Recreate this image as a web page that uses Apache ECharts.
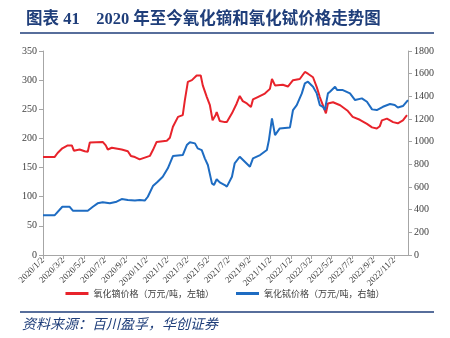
<!DOCTYPE html>
<html><head><meta charset="utf-8">
<script src="https://cdn.jsdelivr.net/npm/echarts@6/dist/echarts.min.js"></script>
<style>html,body{margin:0;padding:0;background:#fff}#c{width:450px;height:338px}</style>
</head><body><div id="c"></div>
<script>
var titleText = '图表 41    2020 年至今氧化镝和氧化铽价格走势图';
var sourceText = '资料来源：百川盈孚，华创证券';
var seriesNames = ['氧化镝价格（万元/吨，左轴）', '氧化铽价格（万元/吨，右轴）'];
var tickLabels = ['2020/1/2','2020/3/2','2020/5/2','2020/7/2','2020/9/2','2020/11/2','2021/1/2','2021/3/2','2021/5/2','2021/7/2','2021/9/2','2021/11/2','2022/1/2','2022/3/2','2022/5/2','2022/7/2','2022/9/2','2022/11/2'];
var xStart = '2020/1/2', xEnd = '2022/12/13';

var dyDates = ['2020/1/2','2020/2/5','2020/2/14','2020/2/28','2020/3/15','2020/3/27','2020/4/2','2020/4/19','2020/5/4','2020/5/13','2020/5/19','2020/6/26','2020/7/5','2020/7/11','2020/7/23','2020/8/21','2020/9/8','2020/9/17','2020/9/29','2020/10/13','2020/10/28','2020/11/12','2020/11/21','2020/12/2','2021/1/1','2021/1/10','2021/1/19','2021/2/3','2021/2/17','2021/2/23','2021/3/4','2021/3/16','2021/3/30','2021/4/11','2021/4/17','2021/4/29','2021/5/8','2021/5/16','2021/5/25','2021/5/28','2021/6/6','2021/6/21','2021/6/27','2021/7/12','2021/7/26','2021/8/4','2021/8/13','2021/8/25','2021/9/6','2021/9/12','2021/9/26','2021/10/17','2021/11/1','2021/11/7','2021/11/16','2021/12/9','2021/12/24','2022/1/8','2022/1/28','2022/2/12','2022/2/21','2022/3/8','2022/3/19','2022/3/28','2022/4/6','2022/4/15','2022/4/21','2022/5/6','2022/5/27','2022/6/17','2022/7/3','2022/7/24','2022/8/14','2022/8/29','2022/9/12','2022/9/21','2022/9/27','2022/10/12','2022/10/30','2022/11/13','2022/11/28','2022/12/10'];
var dyValues = [168,168,175,183,188,188,179,181,178,177,193,194,188,181,184,181,178,170,168,164,167,170,180,194,196,201,220,237,240,265,297,300,308,308,291,271,257,231,240,245,230,228,228,243,260,273,264,260,254,267,271,277,285,302,291,292,289,300,302,314,311,305,288,271,257,243,260,262,257,248,237,232,225,219,217,221,231,234,228,226,231,240];

var tbDates = ['2020/1/2','2020/2/5','2020/2/28','2020/3/20','2020/3/30','2020/5/13','2020/5/28','2020/6/11','2020/6/26','2020/7/17','2020/8/6','2020/8/21','2020/9/8','2020/9/29','2020/10/13','2020/10/28','2020/11/6','2020/11/21','2020/12/5','2020/12/20','2021/1/4','2021/1/19','2021/2/17','2021/3/1','2021/3/10','2021/3/25','2021/4/2','2021/4/14','2021/4/23','2021/5/2','2021/5/14','2021/5/20','2021/5/28','2021/6/6','2021/6/21','2021/6/27','2021/7/12','2021/7/20','2021/8/4','2021/8/19','2021/9/3','2021/9/12','2021/10/3','2021/10/23','2021/10/29','2021/11/7','2021/11/16','2021/11/30','2021/12/30','2022/1/8','2022/1/19','2022/2/3','2022/2/12','2022/2/21','2022/3/8','2022/3/19','2022/3/28','2022/4/6','2022/4/12','2022/4/17','2022/4/21','2022/4/27','2022/5/12','2022/5/18','2022/6/4','2022/6/25','2022/7/10','2022/7/30','2022/8/14','2022/8/29','2022/9/12','2022/9/30','2022/10/21','2022/11/4','2022/11/13','2022/11/28','2022/12/13'];
var tbValues = [350,350,426,426,391,391,426,456,465,456,470,494,485,480,485,480,514,608,647,690,765,873,882,970,994,985,941,926,853,794,632,618,668,641,617,603,690,808,867,823,779,853,882,926,1014,1205,1058,1117,1126,1279,1323,1426,1514,1529,1485,1426,1323,1308,1279,1264,1426,1440,1485,1455,1455,1426,1367,1382,1352,1285,1279,1308,1332,1323,1302,1314,1367];

// dates -> day number since xStart (UTC to avoid DST shifts)
function dayNum(s){var p=s.split('/');return Math.round(Date.UTC(+p[0],+p[1]-1,+p[2])/86400000);}
var day0 = dayNum(xStart);
function dx(s){return dayNum(s)-day0;}
function pairs(d,v){return d.map(function(x,i){return [dx(x),v[i]];});}
var tickPos = tickLabels.map(dx);
function fmt(v){var i=tickPos.indexOf(Math.round(v));return i>=0?tickLabels[i]:'';}

var navy = '#1F3E7A';
var axisCol = '#A6A6A6';
var labelFont = {fontFamily:'Liberation Serif', fontSize:10, color:'#404040'};
var chart = echarts.init(document.getElementById('c'), null, {renderer:'canvas'});
chart.setOption({
  animation:false,
  backgroundColor:'#fff',
  title:{text:titleText,left:21,top:6,textStyle:{fontFamily:'Liberation Serif, Noto Sans CJK SC',fontWeight:'bold',fontSize:16.5,color:navy}},
  graphic:[
    {type:'line',shape:{x1:20,y1:33,x2:434,y2:33},style:{stroke:navy,lineWidth:1.5}},
    {type:'line',shape:{x1:20,y1:312,x2:434,y2:312},style:{stroke:navy,lineWidth:1.5}},
    {type:'text',left:22,top:317,style:{text:sourceText,font:'italic 14px "Noto Sans CJK SC"',fill:navy}}
  ],
  legend:{bottom:35,left:'center',itemGap:22,itemWidth:23,itemHeight:3,icon:'rect',
    textStyle:{fontSize:9,color:'#404040',fontFamily:'Noto Sans CJK SC'},data:seriesNames},
  grid:{left:43,right:42,top:51,bottom:83},
  xAxis:{type:'value',min:0,max:dx(xEnd),
    axisLine:{lineStyle:{color:axisCol}},
    axisTick:{show:true,customValues:tickPos,length:4,lineStyle:{color:axisCol}},
    axisLabel:{customValues:tickPos,formatter:fmt,rotate:45,fontFamily:'Liberation Serif',fontSize:9,color:'#404040',margin:4},
    splitLine:{show:false}},
  yAxis:[
    {type:'value',min:0,max:350,interval:50,position:'left',
      axisLine:{show:true,lineStyle:{color:axisCol}},axisTick:{show:true,length:4,lineStyle:{color:axisCol}},
      axisLabel:Object.assign({margin:6,formatter:function(v){return String(v);}},labelFont),splitLine:{show:false}},
    {type:'value',min:0,max:1800,interval:200,position:'right',
      axisLine:{show:true,lineStyle:{color:axisCol}},axisTick:{show:true,length:4,lineStyle:{color:axisCol}},
      axisLabel:Object.assign({margin:6,formatter:function(v){return String(v);}},labelFont),splitLine:{show:false}}
  ],
  series:[
    {name:seriesNames[0],type:'line',yAxisIndex:0,showSymbol:false,symbol:'none',data:pairs(dyDates,dyValues),
      lineStyle:{color:'#E8232B',width:2},itemStyle:{color:'#E8232B'}},
    {name:seriesNames[1],type:'line',yAxisIndex:1,showSymbol:false,symbol:'none',data:pairs(tbDates,tbValues),
      lineStyle:{color:'#1E6CC2',width:2},itemStyle:{color:'#1E6CC2'}}
  ]
});
</script></body></html>
